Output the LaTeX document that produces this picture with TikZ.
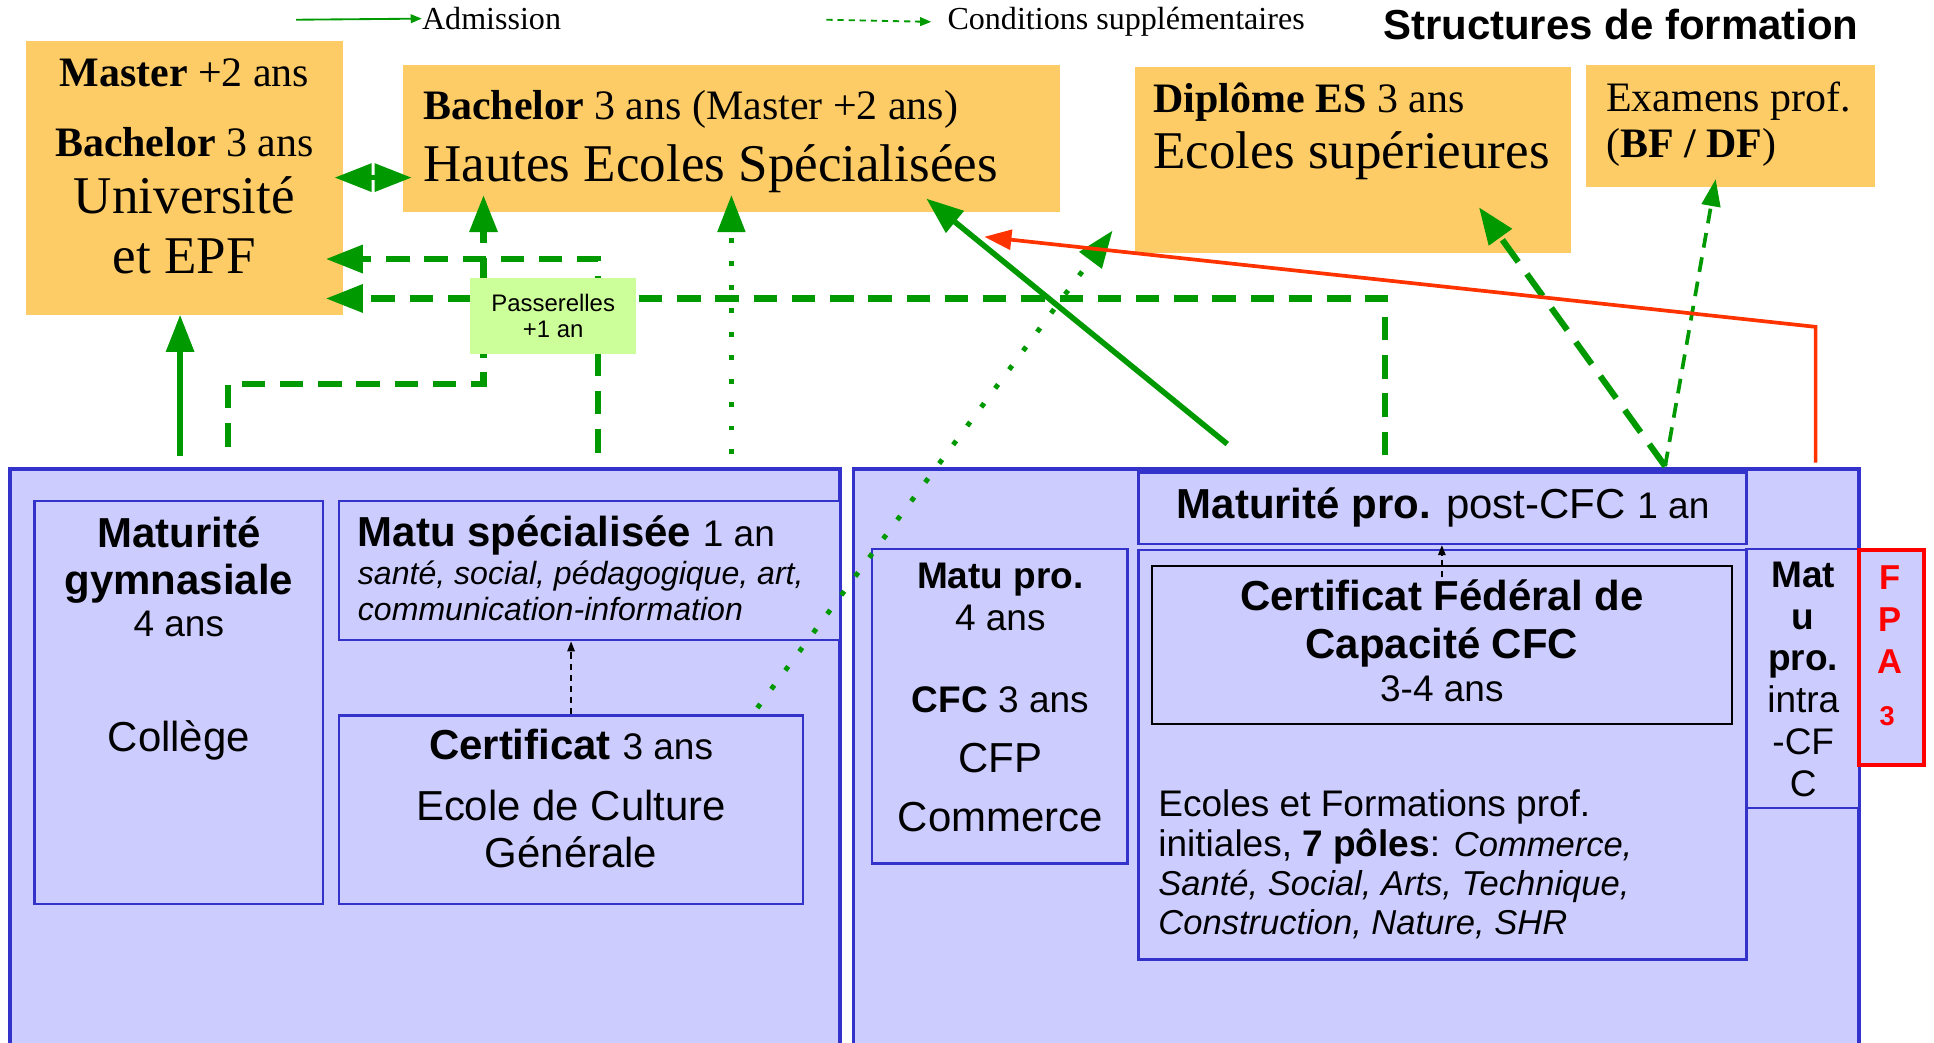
\documentclass[tikz,border=0pt]{standalone}
\usepackage{fontspec}
\setmainfont{Liberation Serif}
\setsansfont{Liberation Sans}
\usetikzlibrary{arrows.meta}

\definecolor{cjaune}{RGB}{254,204,102}
\definecolor{cvert}{RGB}{0,153,0}
\definecolor{cpass}{RGB}{204,255,153}
\definecolor{cbleu}{RGB}{204,204,255}
\definecolor{cbord}{RGB}{51,51,204}
\definecolor{crouge}{RGB}{255,51,0}
\definecolor{cfpa}{RGB}{255,0,0}

\newcommand{\fsz}[2]{\fontsize{#1}{#2}\selectfont}
\newcommand{\itpole}[1]{{\fsz{28}{32}\itshape #1}}

\begin{document}
\begin{tikzpicture}
[x=1pt,y=-1pt,>={Triangle[length=30pt,width=22pt]},
obox/.style={fill=cjaune,inner sep=0},
bbox/.style={draw=cbord,fill=cbleu,line width=2pt,inner sep=0},
rm/.style 2 args={inner sep=0,font=\rmfamily\fsz{#1}{#2}},
sf/.style 2 args={inner sep=0,font=\sffamily\fsz{#1}{#2}},
adm/.style={draw=cvert,line width=4.5pt,->},
cond/.style={draw=cvert,line width=5pt,dash pattern=on 19pt off 12pt,->},
dotarr/.style={draw=cvert,line width=4pt,dash pattern=on 4pt off 15pt,->},
thinc/.style={draw=cvert,line width=3pt,dash pattern=on 12pt off 8pt,-{Triangle[length=22pt,width=15pt]}},
rouge/.style={draw=crouge,line width=3pt,-{Triangle[length=22pt,width=16pt]}},
petit/.style={draw=black,line width=1.2pt,dash pattern=on 5pt off 4pt,-{Triangle[length=8pt,width=6pt]}},
]

\useasboundingbox (0,0) rectangle (1568,845);

%Legende
\node (lgadm) at (342,24)[rm={26}{30},anchor=base west] {Admission};
\node (lgcond) at (768,24)[rm={26}{30},anchor=base west] {Conditions supplémentaires};
\node (titre) at (1507,32)[sf={34}{40},anchor=base east] {\textbf{Structures de formation}};
\coordinate (lg1) at (240,16);
\coordinate (lg2) at (670,16);
\draw[draw=cvert,line width=1.5pt,-{Triangle[length=9pt,width=7pt]}] (lg1) -- (lgadm.west);
\draw[draw=cvert,line width=1.5pt,dash pattern=on 5pt off 4pt,-{Triangle[length=9pt,width=7pt]}] (lg2) -- ([xshift=-13pt]lgcond.west);

%Hautes ecoles
\node (uni) at (149.5,144)[obox,minimum width=257,minimum height=222] {};
\node (hes) at (593,112.5)[obox,minimum width=532,minimum height=119] {};
\node (es) at (1097,129.5)[obox,minimum width=354,minimum height=151] {};
\node (exam) at (1403,102.5)[obox,minimum width=234,minimum height=99] {};

%(base = derniere ligne)
\node (unitxt) at (149.5,127)[rm={34}{57},anchor=base,align=center] {\textbf{Master} +2 ans\\\textbf{Bachelor} 3 ans};
\node (uninom) at (149.5,222)[rm={43}{49},anchor=base,align=center] {Université\\et EPF};
\node (hestxt) at (343,97)[rm={34}{40},anchor=base west] {\textbf{Bachelor} 3 ans (Master +2 ans)};
\node (hesnom) at (343,147)[rm={43}{49},anchor=base west] {Hautes Ecoles Spécialisées};
\node (estxt) at (935,91)[rm={34}{40},anchor=base west] {\textbf{Diplôme ES} 3 ans};
\node (esnom) at (935,137)[rm={43}{49},anchor=base west] {Ecoles supérieures};
\node (examtxt) at (1302,128)[rm={34}{38},anchor=base west,align=left] {Examens prof.\\(\textbf{BF / DF})};

%Secondaire II
\node (gauche) at (344.5,620)[bbox,line width=3pt,minimum width=673,minimum height=480] {};
\node (droite) at (1099.5,620)[bbox,line width=3pt,minimum width=815,minimum height=480] {};
\node (matgym) at (145,569.5)[bbox,minimum width=234,minimum height=327] {};
\node (matspec) at (478,462.5)[bbox,minimum width=406,minimum height=113] {};
\node (cert) at (463,656.5)[bbox,minimum width=376,minimum height=153] {};
\node (mppost) at (1169.5,412)[bbox,minimum width=493,minimum height=58] {};
\node (mpro) at (810.5,572.5)[bbox,minimum width=207,minimum height=255] {};
\node (efp) at (1169.5,612)[bbox,minimum width=493,minimum height=332] {};
\node (cfc) at (1169,523)[bbox,draw=black,minimum width=470,minimum height=128] {};
\node (mpintra) at (1461.5,550)[bbox,minimum width=91,minimum height=210] {};
\node (fpa) at (1533.5,533)[bbox,draw=cfpa,line width=3pt,minimum width=53,minimum height=174] {};

\node (matgymtxt) at (145,482)[sf={34}{38},anchor=base,align=center] {\textbf{Maturité}\\\textbf{gymnasiale}};
\node (matgymduree) at (145,516)[sf={30}{34},anchor=base] {4 ans};
\node (college) at (145,609)[sf={34}{38},anchor=base] {Collège};
\node (matspectxt) at (290,443)[sf={34}{38},anchor=base west] {\textbf{Matu spécialisée} {\fsz{30}{34}1 an}};
\node (matspecdom) at (290,503)[sf={26}{29},anchor=base west,align=left] {\textit{santé, social, pédagogique, art,}\\\textit{communication-information}};
\node (certtxt) at (463,616)[sf={34}{38},anchor=base] {\textbf{Certificat} {\fsz{30}{34}3 ans}};
\node (certnom) at (463,703)[sf={34}{38},anchor=base,align=center] {Ecole de Culture\\Générale};
\node (mpposttxt) at (1170,420)[sf={34}{38},anchor=base] {\textbf{Maturité pro.} post-CFC {\fsz{30}{34}1 an}};
\node (mprotxt) at (811,511)[sf={30}{34},anchor=base,align=center] {\textbf{Matu pro.}\\4 ans};
\node (mprocfc) at (811,578)[sf={30}{34},anchor=base] {\textbf{CFC} 3 ans};
\node (mpronom) at (811,674)[sf={34}{48},anchor=base,align=center] {CFP\\Commerce};
\node (cfctxt) at (1169,534)[sf={34}{39},anchor=base,align=center] {\textbf{Certificat Fédéral de}\\\textbf{Capacité CFC}};
\node (cfcduree) at (1169,569)[sf={30}{34},anchor=base] {3-4 ans};
\node (efptxt) at (939,758)[sf={30}{32},anchor=base west,align=left] {Ecoles et Formations prof.\\initiales, \textbf{7 pôles}: \itpole{Commerce,}\\\itpole{Santé, Social, Arts, Technique,}\\\itpole{Construction, Nature, SHR}};
\node (mpintratxt) at (1462,646)[sf={30}{34},anchor=base,align=center] {\textbf{Mat}\\\textbf{u}\\\textbf{pro.}\\intra\\-CF\\C};
\node (fpatxt) at (1532,546)[sf={28}{34},anchor=base,align=center,text=cfpa] {\textbf{F}\\\textbf{P}\\\textbf{A}};
\node (fpa3) at (1530,588)[sf={22}{26},anchor=base,text=cfpa] {\textbf{3}};

%Conditions supplementaires
\coordinate (c1) at (185,362);
\coordinate (c1b) at (392,311);
\draw[cond] (c1) |- (c1b) -- ([yshift=14pt]c1b |- hes.south);
\coordinate (c2) at (485,367);
\coordinate (c2b) at (485,210);
\draw[cond] (c2) -- (c2b) -- ([xshift=-14pt]c2b -| uni.east);
\coordinate (c3) at (1123,369);
\coordinate (c3b) at (1123,242);
\draw[cond] (c3) -- (c3b) -- ([xshift=-14pt]c3b -| uni.east);
\coordinate (c4) at (1350,378);
\coordinate (c4e) at (1199,168);
\draw[cond,dash pattern=on 22pt off 12pt] (c4) -- (c4e);
\draw[thinc] (c4) -- ([xshift=-12pt,yshift=7pt]exam.south);

\coordinate (p1) at (593,368);
\draw[dotarr] (p1) -- ([yshift=14pt]p1 |- hes.south);
\coordinate (p2) at (614,574);
\coordinate (p2e) at (902,187);
\draw[dotarr] (p2) -- (p2e);

%Admission
\coordinate (g0) at (146,370);
\draw[adm] (g0) -- (g0 |- uni.south);
\draw[adm,<->,shorten <=-7pt,shorten >=-7pt] (uni.east) -- (uni.east -| hes.west);
\coordinate (g1) at (995,360);
\coordinate (g1e) at (751,161);
\draw[adm] (g1) -- (g1e);

%FPA
\coordinate (r0) at (1472,375);
\coordinate (r1) at (1472,265);
\coordinate (r2) at (798,192);
\draw[rouge] (r0) -- (r1) -- (r2);

%Passerelles
\node (pass) at (448.5,256)[fill=cpass,minimum width=135,minimum height=62,inner sep=0,align=center,font=\sffamily\fsz{19.4}{21}] {Passerelles\\+1 an};

\draw[petit] (cert.north) -- (cert.north |- matspec.south);
\draw[petit] ([yshift=-10pt]cfc.north) -- (cfc.north |- mppost.south);

\end{tikzpicture}
\end{document}
